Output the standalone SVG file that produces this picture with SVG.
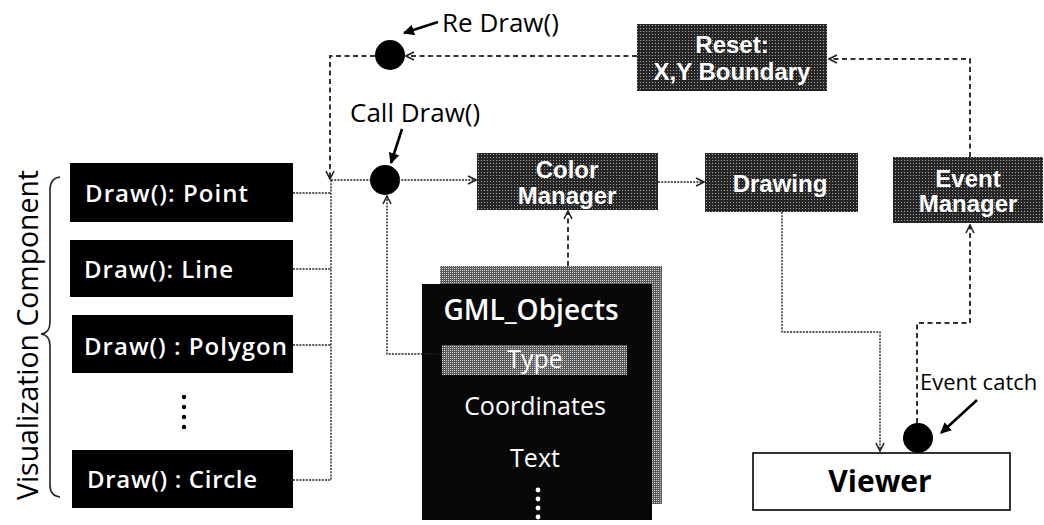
<svg xmlns="http://www.w3.org/2000/svg" width="1044" height="525" viewBox="0 0 1044 525">
  <defs>
    <!-- halftone fills for the process boxes -->
    <pattern id="ht" width="3" height="3" patternUnits="userSpaceOnUse">
      <rect width="3" height="3" fill="#262626"/>
      <rect x="1" y="1" width="1" height="1" fill="#a8a8a8"/>
    </pattern>
    <pattern id="ht2" width="2" height="2" patternUnits="userSpaceOnUse">
      <rect width="2" height="2" fill="#5a5a5a"/>
      <rect width="1" height="1" fill="#d0d0d0"/>
    </pattern>
    <marker id="open" viewBox="0 0 10 10" refX="9" refY="5" markerWidth="10" markerHeight="10" markerUnits="userSpaceOnUse" orient="auto">
      <path d="M1,1 L9,5 L1,9" fill="none" stroke="#222" stroke-width="1.6"/>
    </marker>
    <marker id="solid" viewBox="0 0 10 10" refX="9" refY="5" markerWidth="11" markerHeight="11" markerUnits="userSpaceOnUse" orient="auto">
      <path d="M0,0 L10,5 L0,10 Z" fill="#000"/>
    </marker>
  </defs>
  <style>
    .blk { fill: #000; }
    .proc { fill: url(#ht); }
    .lbl { font-family: "Open Sans", "Noto Sans", sans-serif; font-size: 24px; font-weight: 600; fill: #fff; }
    .bw { font-family: "Liberation Sans", Arial, sans-serif; font-size: 24px; font-weight: bold; fill: #fff; text-anchor: middle; }
    .gml { font-family: "Open Sans", "Noto Sans", sans-serif; fill: #fff; text-anchor: middle; }
    .note { font-family: "Open Sans", "Noto Sans", sans-serif; font-size: 26px; fill: #000; }
    .fine { fill: none; stroke: #222; stroke-width: 1.4; stroke-dasharray: 2 1.2; }
    .dash { fill: none; stroke: #333; stroke-width: 2; stroke-dasharray: 5 3.5; }
    .ptr { fill: none; stroke: #000; stroke-width: 2.6; }
  </style>

  <rect width="1044" height="525" fill="#fff"/>

  <!-- side label with brace -->
  <g id="visualization-component">
    <text transform="translate(38,335) rotate(-90)" text-anchor="middle" font-family="'Open Sans', 'Noto Sans', sans-serif" font-size="29" fill="#000" textLength="330" lengthAdjust="spacingAndGlyphs">Visualization Component</text>
    <path d="M60,177 Q50,178 50,190 L50,322 Q50,333 41,334 Q50,335 50,346 L50,485 Q50,496 60,497" fill="none" stroke="#222" stroke-width="1.6"/>
  </g>

  <g id="draw-point">
    <rect class="blk" x="70" y="163" width="223" height="59"/>
    <text class="lbl" x="85" y="202" textLength="163" lengthAdjust="spacing">Draw(): Point</text>
  </g>
  <g id="draw-line">
    <rect class="blk" x="70" y="240" width="223" height="57"/>
    <text class="lbl" x="84" y="278" textLength="149" lengthAdjust="spacing">Draw(): Line</text>
  </g>
  <g id="draw-polygon">
    <rect class="blk" x="72" y="315" width="221" height="58"/>
    <text class="lbl" x="84" y="355" textLength="203" lengthAdjust="spacing">Draw() : Polygon</text>
  </g>
  <g id="draw-more">
    <circle cx="184" cy="397" r="2.2"/>
    <circle cx="184" cy="407" r="2.2"/>
    <circle cx="184" cy="417" r="2.2"/>
    <circle cx="184" cy="427" r="2.2"/>
  </g>
  <g id="draw-circle">
    <rect class="blk" x="72" y="450" width="221" height="58"/>
    <text class="lbl" x="87" y="488" textLength="170" lengthAdjust="spacing">Draw() : Circle</text>
  </g>

  <g id="redraw-point">
    <circle cx="390" cy="55" r="15" fill="#000"/>
    <text class="note" x="442" y="32">Re Draw()</text>
  </g>
  <g id="calldraw-point">
    <circle cx="385" cy="180" r="15" fill="#000"/>
    <text class="note" x="350" y="122">Call Draw()</text>
  </g>

  <g id="color-manager">
    <rect class="proc" x="477" y="153" width="181" height="57"/>
    <text class="bw" x="567" y="178">Color</text>
    <text class="bw" x="567" y="204">Manager</text>
  </g>
  <g id="reset-boundary">
    <rect class="proc" x="637" y="24" width="190" height="67"/>
    <text class="bw" x="732" y="53">Reset:</text>
    <text class="bw" x="732" y="80">X,Y Boundary</text>
  </g>
  <g id="drawing">
    <rect class="proc" x="705" y="153" width="153" height="59"/>
    <text class="bw" x="780" y="192">Drawing</text>
  </g>
  <g id="event-manager">
    <rect class="proc" x="893" y="157" width="150" height="66"/>
    <text class="bw" x="968" y="187">Event</text>
    <text class="bw" x="968" y="212">Manager</text>
  </g>

  <g id="gml-objects">
    <rect x="440" y="266" width="222" height="238" fill="url(#ht2)"/>
    <rect x="422" y="284" width="230" height="236" fill="#080808"/>
    <text class="gml" x="531" y="320" font-size="28" font-weight="600">GML_Objects</text>
    <rect x="442" y="345" width="185" height="30" fill="url(#ht2)"/>
    <text class="gml" x="535" y="368" font-size="25">Type</text>
    <text class="gml" x="535" y="415" font-size="25">Coordinates</text>
    <text class="gml" x="535" y="467" font-size="25">Text</text>
    <circle cx="538" cy="490" r="2.4" fill="#fff"/>
    <circle cx="538" cy="499" r="2.4" fill="#fff"/>
    <circle cx="538" cy="508" r="2.4" fill="#fff"/>
    <circle cx="538" cy="517" r="2.4" fill="#fff"/>
  </g>

  <g id="viewer">
    <rect x="753" y="453" width="257" height="57" fill="#fff" stroke="#000" stroke-width="1.6"/>
    <text x="880" y="492" text-anchor="middle" font-family="'Open Sans', 'Noto Sans', sans-serif" font-size="30" font-weight="bold" fill="#000">Viewer</text>
  </g>
  <g id="event-catch">
    <circle cx="918" cy="438" r="15" fill="#000"/>
    <text x="920" y="390" font-family="'Open Sans', 'Noto Sans', sans-serif" font-size="22" fill="#000">Event catch</text>
  </g>

  <g id="connectors">
    <!-- draw() calls gathered on one bus -->
    <path class="fine" d="M293,193 H331 M293,269 H331 M293,345 H331 M293,480 H331 M331,180 V480"/>
    <path class="fine" d="M331,180 H372"/>
    <path class="fine" d="M398,180 H476" marker-end="url(#open)"/>
    <path class="fine" d="M442,354 H387 V196" marker-end="url(#open)"/>
    <path class="dash" d="M568,266 V211" marker-end="url(#open)"/>
    <path class="fine" d="M658,182 H704" marker-end="url(#open)"/>
    <path class="fine" d="M782,212 V332 H880 V451" marker-end="url(#open)"/>
    <!-- event feedback loop -->
    <path class="dash" d="M917,423 V323 H970 V225" marker-end="url(#open)"/>
    <path class="dash" d="M970,157 V59 H829" marker-end="url(#open)"/>
    <path class="dash" d="M637,56 H406" marker-end="url(#open)"/>
    <path class="dash" d="M375,56 H330 V179" marker-end="url(#open)"/>
    <!-- label pointers -->
    <path class="ptr" d="M438,22 L404,33" marker-end="url(#solid)"/>
    <path class="ptr" d="M402,129 L391,163" marker-end="url(#solid)"/>
    <path class="ptr" d="M977,400 L941,433" marker-end="url(#solid)"/>
  </g>
</svg>
